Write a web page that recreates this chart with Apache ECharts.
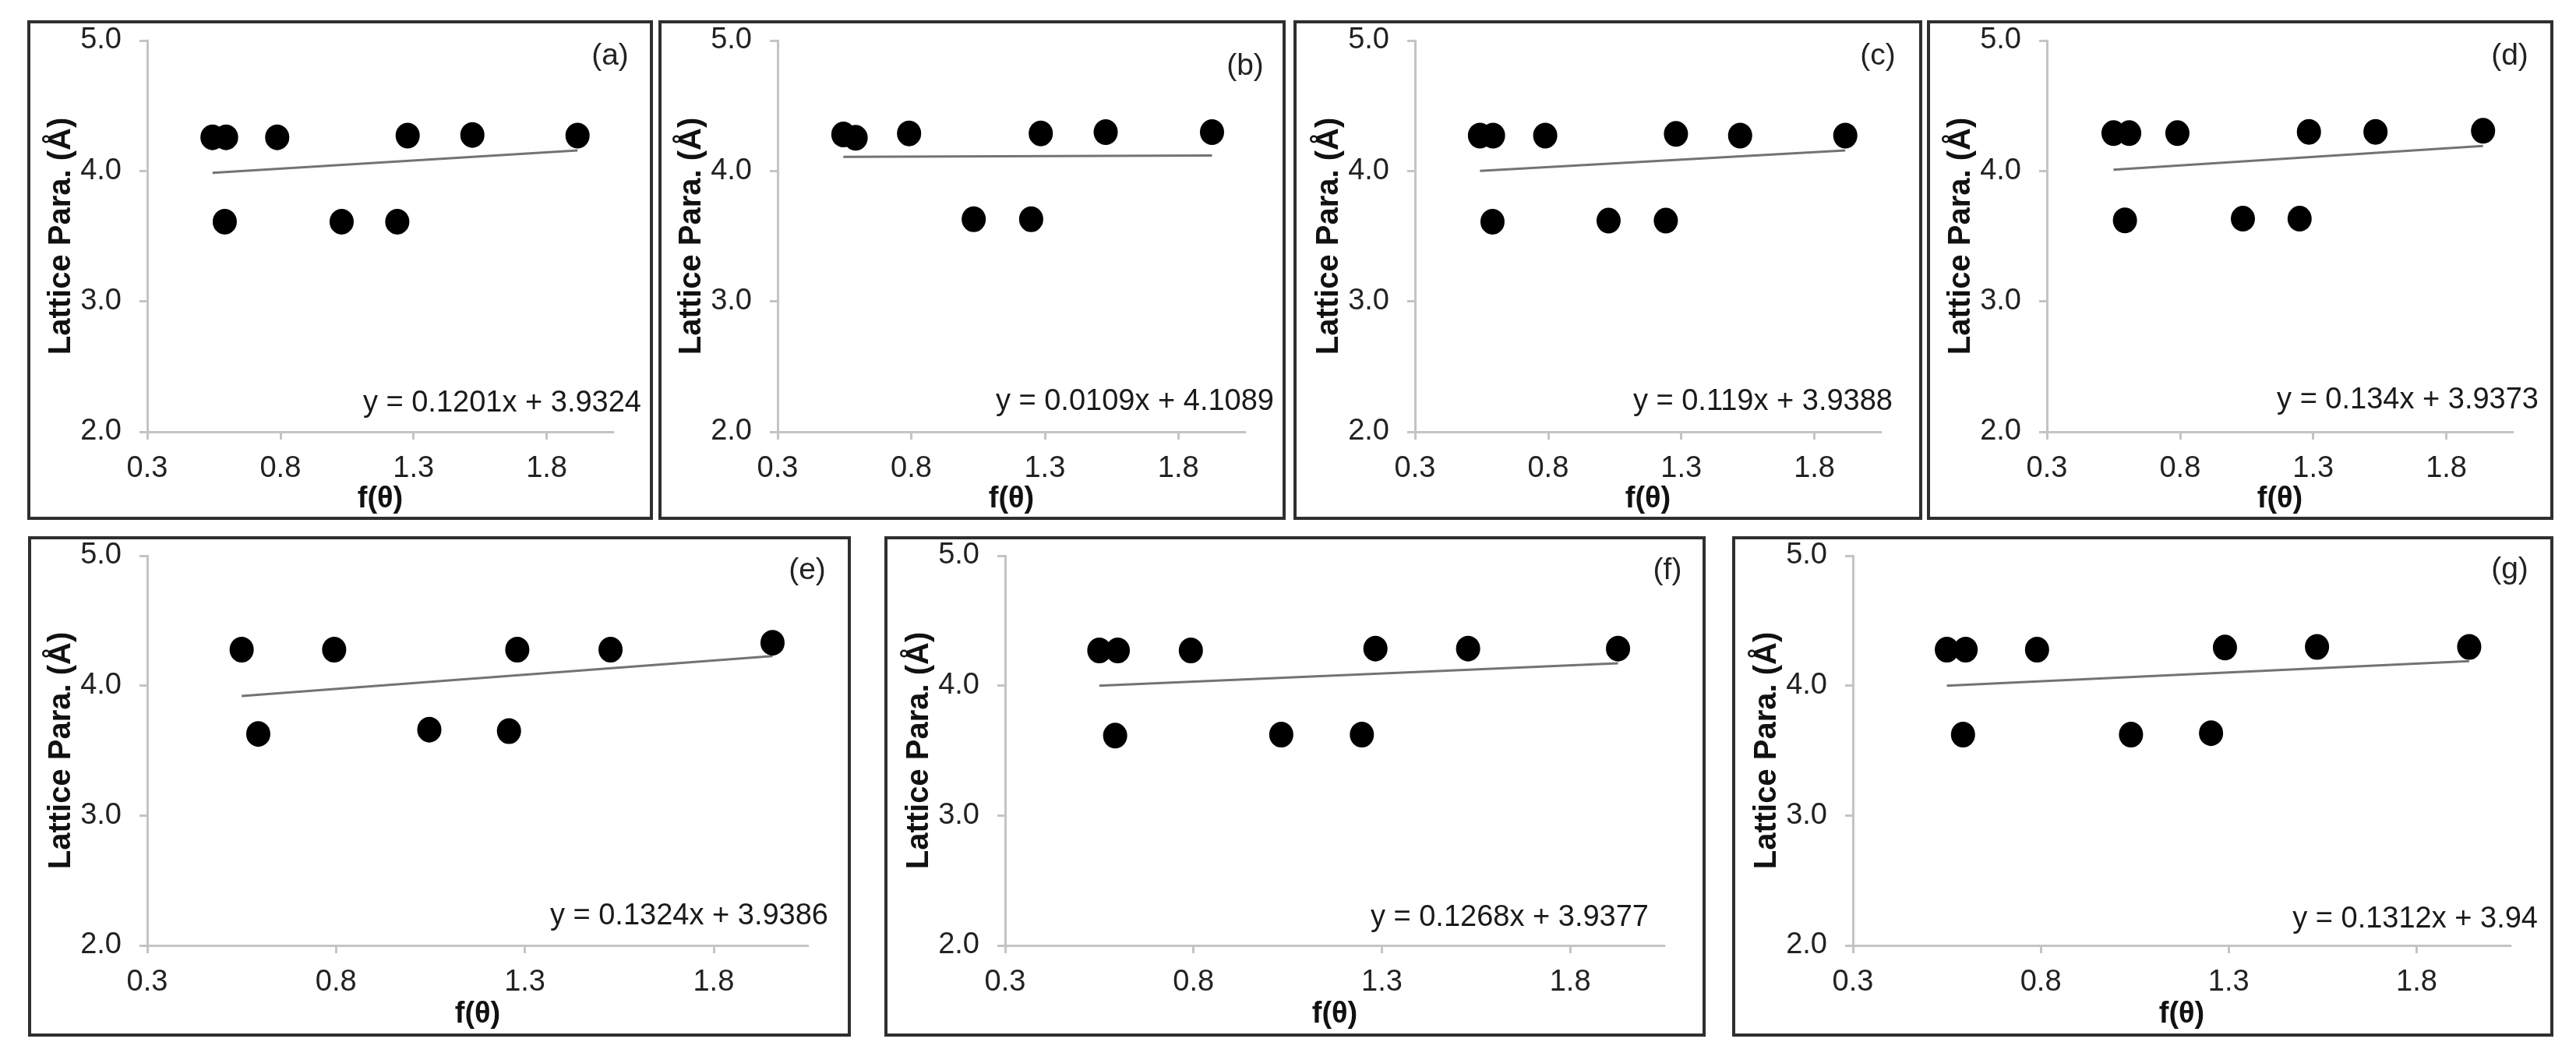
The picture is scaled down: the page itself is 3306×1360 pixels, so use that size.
<!DOCTYPE html>
<html>
<head>
<meta charset="utf-8">
<title>Lattice parameter vs f(θ)</title>
<script src="https://cdn.jsdelivr.net/npm/echarts@6/dist/echarts.min.js"></script>
<style>
  html, body { margin: 0; padding: 0; background: #fff; }
  #chart { width: 3306px; height: 1360px; }
</style>
</head>
<body>
<div id="chart"></div>
<script>
// values, one panel per array
const pointsA = [[0.545, 4.258], [0.596, 4.258], [0.788, 4.258], [1.278, 4.271], [1.521, 4.276], [1.916, 4.271], [0.591, 3.611], [1.030, 3.611], [1.239, 3.611]]
const pointsB = [[0.546, 4.280], [0.592, 4.254], [0.792, 4.288], [1.285, 4.288], [1.528, 4.298], [1.926, 4.298], [1.034, 3.630], [1.249, 3.630]]
const pointsC = [[0.544, 4.271], [0.593, 4.271], [0.789, 4.271], [1.280, 4.284], [1.521, 4.271], [1.916, 4.271], [0.591, 3.611], [1.027, 3.619], [1.242, 3.619]]
const pointsD = [[0.550, 4.290], [0.609, 4.290], [0.790, 4.290], [1.284, 4.300], [1.534, 4.300], [1.938, 4.308], [0.593, 3.621], [1.036, 3.634], [1.249, 3.634]]
const pointsE = [[0.550, 4.277], [0.795, 4.277], [1.280, 4.277], [1.527, 4.277], [1.956, 4.330], [0.594, 3.628], [1.047, 3.661], [1.258, 3.650]]
const pointsF = [[0.550, 4.271], [0.599, 4.271], [0.793, 4.271], [1.283, 4.285], [1.529, 4.285], [1.927, 4.285], [0.592, 3.615], [1.033, 3.623], [1.247, 3.623]]
const pointsG = [[0.550, 4.277], [0.600, 4.277], [0.790, 4.277], [1.290, 4.293], [1.535, 4.298], [1.940, 4.298], [0.593, 3.623], [1.040, 3.623], [1.253, 3.634]]

// trendline heights at the first and last point, as drawn
const trendA = [3.985, 4.158]
const trendB = [4.108, 4.118]
const trendC = [4.000, 4.157]
const trendD = [4.010, 4.192]
const trendE = [3.920, 4.228]
const trendF = [4.000, 4.172]
const trendG = [4.000, 4.188]

const equations = [
  'y = 0.1201x + 3.9324',
  'y = 0.0109x + 4.1089',
  'y = 0.119x + 3.9388',
  'y = 0.134x + 3.9373',
  'y = 0.1324x + 3.9386',
  'y = 0.1268x + 3.9377',
  'y = 0.1312x + 3.94',
]
const panelTags = ['(a)', '(b)', '(c)', '(d)', '(e)', '(f)', '(g)']
const xTicks = [0.3, 0.8, 1.3, 1.8]
const yTicks = [2, 3, 4, 5]
const xName = 'f(θ)'
const yName = 'Lattice Para. (Å)'

const allPoints = [pointsA, pointsB, pointsC, pointsD, pointsE, pointsF, pointsG]
const allTrends = [trendA, trendB, trendC, trendD, trendE, trendF, trendG]

// layout (pixels)
const grids = [
  [189, 52, 598, 502], [998, 52, 600, 502], [1816, 52, 598, 502], [2627, 52, 598, 502],
  [189, 713, 848, 500], [1290, 713, 846, 500], [2378, 713, 844, 500],
]
const boxes = [
  [37, 28, 799, 637], [847, 28, 801, 637], [1662, 28, 803, 637], [2475, 28, 800, 637],
  [38, 690, 1052, 638], [1137, 690, 1050, 638], [2225, 690, 1050, 638],
]
const eqPos = [[823, 518], [1635, 516], [2429, 516], [3258, 514], [1063, 1176], [2116, 1178], [3257, 1180]]
const tagPos = [[783, 72], [1598, 85], [2410, 72], [3221, 72], [1036, 732], [2140, 732], [3221, 731]]

const FONT = '"Liberation Sans", Arial, sans-serif'
const axisGray = '#c4c4c4'

const chart = echarts.init(document.getElementById('chart'))

const option = {
  animation: false,
  backgroundColor: '#fff',
  grid: [],
  xAxis: [],
  yAxis: [],
  series: [],
  graphic: [],
}

grids.forEach((g, i) => {
  const bottomRow = i >= 4
  option.grid.push({
    left: g[0], top: g[1], width: g[2], height: g[3],
    containLabel: false, outerBoundsMode: 'none',
  })
  option.xAxis.push({
    type: 'value', gridIndex: i,
    min: 0.3, max: 2.05, interval: 0.5,
    name: xName, nameLocation: 'middle', nameGap: bottomRow ? 70 : 68,
    nameTextStyle: {fontFamily: FONT, fontSize: 38, fontWeight: 'bold', color: '#111'},
    axisLine: {show: true, onZero: false, lineStyle: {color: axisGray, width: 3}},
    axisTick: {show: true, length: 10, customValues: xTicks, lineStyle: {color: axisGray, width: 3}},
    axisLabel: {
      customValues: xTicks, margin: 29,
      fontFamily: FONT, fontSize: 38, color: '#222',
      formatter: v => v.toFixed(1),
    },
    splitLine: {show: false},
  })
  option.yAxis.push({
    type: 'value', gridIndex: i,
    min: 2, max: 5, interval: 1,
    name: yName, nameLocation: 'middle', nameRotate: 90, nameGap: 88,
    nameTextStyle: {fontFamily: FONT, fontSize: 40, fontWeight: 'bold', color: '#111'},
    axisLine: {show: true, onZero: false, lineStyle: {color: axisGray, width: 3}},
    axisTick: {show: true, length: 10, customValues: yTicks, lineStyle: {color: axisGray, width: 3}},
    axisLabel: {
      customValues: yTicks, margin: 33,
      fontFamily: FONT, fontSize: 38, color: '#222',
      formatter: v => v.toFixed(1),
    },
    splitLine: {show: false},
  })

  const pts = allPoints[i]
  const xs = pts.map(p => p[0])
  const tr = allTrends[i]
  option.series.push({
    type: 'line', xAxisIndex: i, yAxisIndex: i,
    data: [[Math.min(...xs), tr[0]], [Math.max(...xs), tr[1]]],
    symbol: 'none', z: 2,
    lineStyle: {color: '#737373', width: 3},
  })
  option.series.push({
    type: 'scatter', xAxisIndex: i, yAxisIndex: i,
    data: pts, symbol: 'circle', symbolSize: [31, 33], z: 3,
    itemStyle: {color: '#000', opacity: 1},
  })

  const b = boxes[i]
  option.graphic.push({
    type: 'rect', z: 10,
    shape: {x: b[0], y: b[1], width: b[2], height: b[3]},
    style: {fill: 'none', stroke: '#2f2f2f', lineWidth: 4},
  })
  option.graphic.push({
    type: 'text', z: 10, x: eqPos[i][0], y: eqPos[i][1],
    style: {
      text: equations[i], font: '38px ' + FONT, fill: '#1a1a1a',
      align: 'right', verticalAlign: 'middle',
    },
  })
  option.graphic.push({
    type: 'text', z: 10, x: tagPos[i][0], y: tagPos[i][1],
    style: {
      text: panelTags[i], font: '39px ' + FONT, fill: '#222',
      align: 'center', verticalAlign: 'middle',
    },
  })
})

chart.setOption(option)
</script>
</body>
</html>
